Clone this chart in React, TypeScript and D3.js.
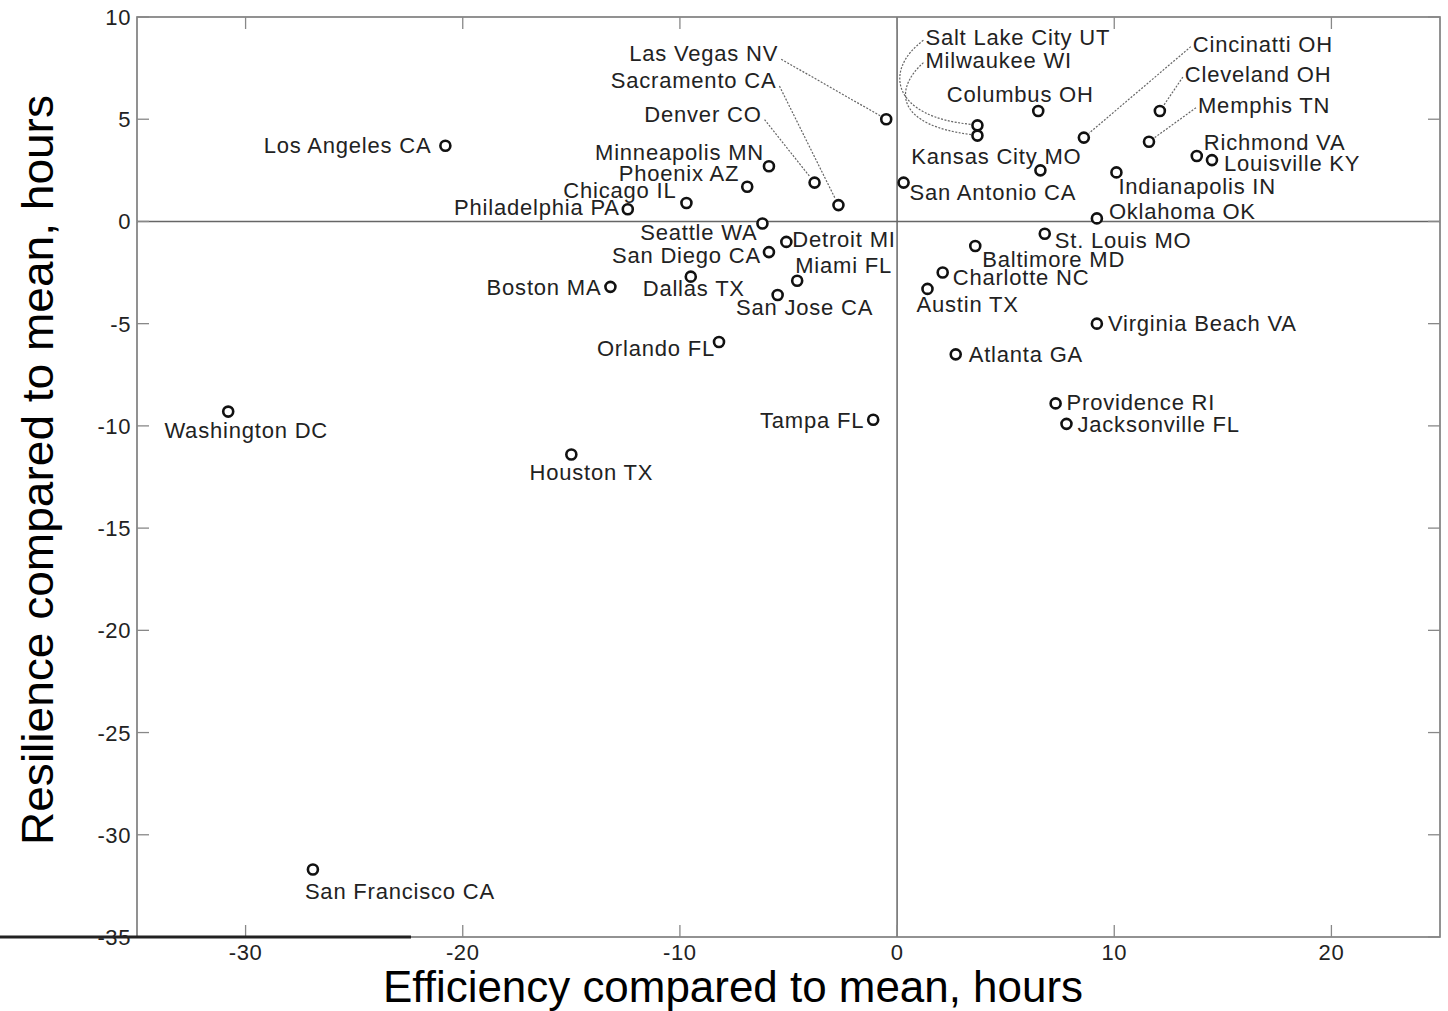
import React from "react";
import { scaleLinear } from "d3";

// city data (hours compared to mean)
const cities = [
  "Los Angeles CA", "Philadelphia PA", "Chicago IL", "Phoenix AZ", "Minneapolis MN",
  "Denver CO", "Sacramento CA", "Las Vegas NV", "Seattle WA", "San Diego CA",
  "Detroit MI", "Miami FL", "San Jose CA", "Dallas TX", "Boston MA",
  "Orlando FL", "Tampa FL", "Washington DC", "Houston TX", "San Francisco CA",
  "Salt Lake City UT", "Milwaukee WI", "Columbus OH", "Kansas City MO", "San Antonio CA",
  "Cincinatti OH", "Cleveland OH", "Memphis TN", "Richmond VA", "Louisville KY",
  "Indianapolis IN", "Oklahoma OK", "St. Louis MO", "Baltimore MD", "Charlotte NC",
  "Austin TX", "Virginia Beach VA", "Atlanta GA", "Providence RI", "Jacksonville FL",
];
const efficiency = [
  -20.8, -12.4, -9.7, -6.9, -5.9,
  -3.8, -2.7, -0.5, -6.2, -5.9,
  -5.1, -4.6, -5.5, -9.5, -13.2,
  -8.2, -1.1, -30.8, -15.0, -26.9,
  3.7, 3.7, 6.5, 6.6, 0.3,
  8.6, 12.1, 11.6, 13.8, 14.5,
  10.1, 9.2, 6.8, 3.6, 2.1,
  1.4, 9.2, 2.7, 7.3, 7.8,
];
const resilience = [
  3.7, 0.6, 0.9, 1.7, 2.7,
  1.9, 0.8, 5.0, -0.1, -1.5,
  -1.0, -2.9, -3.6, -2.7, -3.2,
  -5.9, -9.7, -9.3, -11.4, -31.7,
  4.7, 4.2, 5.4, 2.5, 1.9,
  4.1, 5.4, 3.9, 3.2, 3.0,
  2.4, 0.15, -0.6, -1.2, -2.5,
  -3.3, -5.0, -6.5, -8.9, -9.9,
];
const xTicks = [-30, -20, -10, 0, 10, 20];
const yTicks = [10, 5, 0, -5, -10, -15, -20, -25, -30, -35];

// label placement relative to each marker (pixels)
type Place = { dx: number; dy: number; anchor: "start" | "middle" | "end"; leader?: "line" | "curve"; c1?: [number, number]; c2?: [number, number] };
const placement: Record<string, Place> = {
  "Los Angeles CA": { dx: -14, dy: 0, anchor: "end" },
  "Philadelphia PA": { dx: -8, dy: -1, anchor: "end" },
  "Chicago IL": { dx: -10, dy: -12, anchor: "end" },
  "Phoenix AZ": { dx: -8, dy: -13, anchor: "end" },
  "Minneapolis MN": { dx: -5, dy: -13, anchor: "end" },
  "Denver CO": { dx: -53, dy: -68, anchor: "end", leader: "line" },
  "Sacramento CA": { dx: -62, dy: -124, anchor: "end", leader: "line" },
  "Las Vegas NV": { dx: -108, dy: -65, anchor: "end", leader: "line" },
  "Seattle WA": { dx: -5, dy: 10, anchor: "end" },
  "San Diego CA": { dx: -8, dy: 4, anchor: "end" },
  "Detroit MI": { dx: 6, dy: -2, anchor: "start" },
  "Miami FL": { dx: -2, dy: -15, anchor: "start" },
  "San Jose CA": { dx: 27, dy: 13, anchor: "middle" },
  "Dallas TX": { dx: 3, dy: 12, anchor: "middle" },
  "Boston MA": { dx: -9, dy: 1, anchor: "end" },
  "Orlando FL": { dx: -4, dy: 7, anchor: "end" },
  "Tampa FL": { dx: -9, dy: 1, anchor: "end" },
  "Washington DC": { dx: 18, dy: 19, anchor: "middle" },
  "Houston TX": { dx: 20, dy: 18, anchor: "middle" },
  "San Francisco CA": { dx: -8, dy: 22, anchor: "start" },
  "Salt Lake City UT": { dx: -52, dy: -87, anchor: "start", leader: "curve", c1: [-95, -55], c2: [-85, -8] },
  "Milwaukee WI": { dx: -52, dy: -75, anchor: "start", leader: "curve", c1: [-85, -45], c2: [-80, -10] },
  "Columbus OH": { dx: -18, dy: -16, anchor: "middle" },
  "Kansas City MO": { dx: -44, dy: -13, anchor: "middle" },
  "San Antonio CA": { dx: 6, dy: 10, anchor: "start" },
  "Cincinatti OH": { dx: 109, dy: -93, anchor: "start", leader: "line" },
  "Cleveland OH": { dx: 25, dy: -36, anchor: "start", leader: "line" },
  "Memphis TN": { dx: 49, dy: -36, anchor: "start", leader: "line" },
  "Richmond VA": { dx: 7, dy: -13, anchor: "start" },
  "Louisville KY": { dx: 12, dy: 4, anchor: "start" },
  "Indianapolis IN": { dx: 2, dy: 15, anchor: "start" },
  "Oklahoma OK": { dx: 12, dy: -6, anchor: "start" },
  "St. Louis MO": { dx: 10, dy: 7, anchor: "start" },
  "Baltimore MD": { dx: 7, dy: 14, anchor: "start" },
  "Charlotte NC": { dx: 10, dy: 5, anchor: "start" },
  "Austin TX": { dx: -11, dy: 16, anchor: "start" },
  "Virginia Beach VA": { dx: 11, dy: 0, anchor: "start" },
  "Atlanta GA": { dx: 13, dy: 1, anchor: "start" },
  "Providence RI": { dx: 11, dy: 0, anchor: "start" },
  "Jacksonville FL": { dx: 11, dy: 1, anchor: "start" },
};

const W = 1448;
const H = 1011;
const left = 137, right = 1440, top = 17, bottom = 937;
const font = "'Liberation Sans', Arial, Helvetica, sans-serif";

export default function App() {
  const x = scaleLinear().domain([-35, 25]).range([left, right]);
  const y = scaleLinear().domain([-35, 10]).range([bottom, top]);
  const r = 5;

  const leader = (name: string, cx: number, cy: number) => {
    const p = placement[name];
    if (!p.leader) return null;
    const sx = cx + p.dx + (p.anchor === "end" ? 3 : -2);
    const sy = cy + p.dy + (p.anchor === "end" ? 5 : 2);
    if (p.leader === "curve" && p.c1 && p.c2) {
      const ex = cx - r - 1, ey = cy - 1;
      return (
        <path key={name + "-l"} d={`M${sx},${sy} C${cx + p.c1[0]},${cy + p.c1[1]} ${cx + p.c2[0]},${cy + p.c2[1]} ${ex},${ey}`}
          fill="none" stroke="#666" strokeWidth={1.2} strokeDasharray="2,1.5" />
      );
    }
    const ang = Math.atan2(sy - cy, sx - cx);
    const ex = cx + Math.cos(ang) * (r + 2);
    const ey = cy + Math.sin(ang) * (r + 2);
    return <line key={name + "-l"} x1={sx} y1={sy} x2={ex} y2={ey} stroke="#666" strokeWidth={1.2} strokeDasharray="2,1.5" />;
  };

  return (
    <svg width={W} height={H} style={{ position: "absolute", left: 0, top: 0, background: "#fff" }}>
      {/* frame */}
      <rect x={left} y={top} width={right - left} height={bottom - top} fill="none" stroke="#777" strokeWidth={1.6} />
      {/* zero lines */}
      <line x1={x(0)} x2={x(0)} y1={top} y2={bottom} stroke="#666" strokeWidth={1.5} />
      <line x1={left} x2={right} y1={y(0)} y2={y(0)} stroke="#666" strokeWidth={1.5} />
      {/* ticks */}
      {xTicks.map(t => (
        <g key={"xt" + t}>
          <line x1={x(t)} x2={x(t)} y1={bottom} y2={bottom - 12} stroke="#888" strokeWidth={1.3} />
          <line x1={x(t)} x2={x(t)} y1={top} y2={top + 12} stroke="#888" strokeWidth={1.3} />
          <text x={x(t)} y={bottom + 23} textAnchor="middle" fontFamily={font} fontSize={22} letterSpacing={0.6} fill="#222">{t}</text>
        </g>
      ))}
      {yTicks.map(t => (
        <g key={"yt" + t}>
          <line x1={left} x2={left + 12} y1={y(t)} y2={y(t)} stroke="#888" strokeWidth={1.3} />
          <line x1={right} x2={right - 12} y1={y(t)} y2={y(t)} stroke="#888" strokeWidth={1.3} />
          <text x={left - 6} y={y(t) + 8} textAnchor="end" fontFamily={font} fontSize={22} letterSpacing={0.6} fill="#222">{t}</text>
        </g>
      ))}
      {/* stray dark rule at bottom left */}
      <line x1={0} x2={411} y1={bottom} y2={bottom} stroke="#222" strokeWidth={3} />
      {/* leaders */}
      {cities.map((c, i) => leader(c, x(efficiency[i]), y(resilience[i])))}
      {/* markers + labels */}
      {cities.map((c, i) => {
        const cx = x(efficiency[i]);
        const cy = y(resilience[i]);
        const p = placement[c];
        return (
          <g key={c}>
            <circle cx={cx} cy={cy} r={r} fill="#fff" stroke="#111" strokeWidth={2.6} />
            <text x={cx + p.dx} y={cy + p.dy + 7} textAnchor={p.anchor} fontFamily={font} fontSize={22}
              letterSpacing={0.8} fill="#222">{c}</text>
          </g>
        );
      })}
      {/* axis titles */}
      <text x={733} y={1002} textAnchor="middle" fontFamily={font} fontSize={45} textLength={700}
        lengthAdjust="spacingAndGlyphs" fill="#000">Efficiency compared to mean, hours</text>
      <text transform="translate(53,470) rotate(-90)" textAnchor="middle" fontFamily={font} fontSize={45}
        textLength={750} lengthAdjust="spacingAndGlyphs" fill="#000">Resilience compared to mean, hours</text>
    </svg>
  );
}
